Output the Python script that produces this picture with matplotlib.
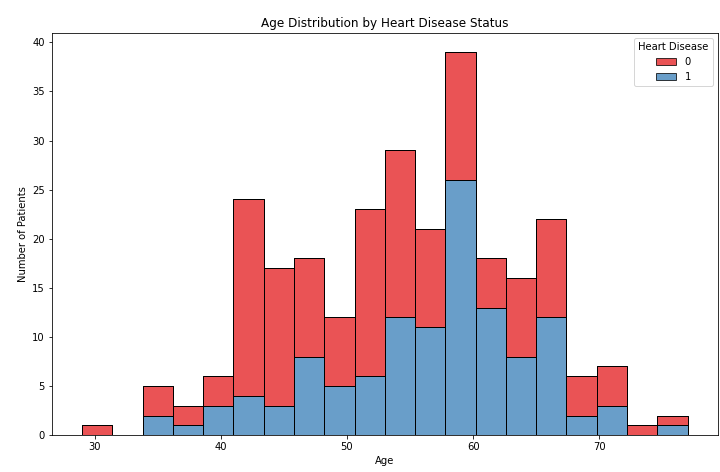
import numpy as np
import matplotlib
matplotlib.use("Agg")
import matplotlib.pyplot as plt
from matplotlib.patches import Patch

# Data (20 bins between age 29 and 77)
age_min, age_max, n_bins = 29, 77, 20
total_counts = [1, 0, 5, 3, 6, 24, 17, 18, 12, 23, 29, 21, 39, 18, 16, 22, 6, 7, 1, 2]
disease_1 = [0, 0, 2, 1, 3, 4, 3, 8, 5, 6, 12, 11, 26, 13, 8, 12, 2, 3, 0, 1]
disease_0 = [t - d for t, d in zip(total_counts, disease_1)]
hue_levels = ["0", "1"]

edges = np.linspace(age_min, age_max, n_bins + 1)
width = edges[1] - edges[0]
left = edges[:-1]

red = "#e41a1c"
blue = "#377eb8"
alpha = 0.75

fig = plt.figure(figsize=(10, 6.556), dpi=72)
ax = fig.add_axes([0.072, 0.078, 0.925, 0.852])

ax.bar(left, disease_1, width=width, align="edge", color=blue, alpha=alpha,
       edgecolor="black", linewidth=1)
ax.bar(left, disease_0, width=width, bottom=disease_1, align="edge", color=red,
       alpha=alpha, edgecolor="black", linewidth=1)
# redraw edges at full opacity
ax.bar(left, disease_1, width=width, align="edge", fill=False, edgecolor="black", linewidth=1)
ax.bar(left, disease_0, width=width, bottom=disease_1, align="edge", fill=False,
       edgecolor="black", linewidth=1)

span = age_max - age_min
ax.set_xlim(age_min - 0.05 * span, age_max + 0.05 * span)
ax.set_ylim(0, max(total_counts) * 1.05)
ax.set_xticks([30, 40, 50, 60, 70])
ax.set_yticks(range(0, 41, 5))

ax.set_title("Age Distribution by Heart Disease Status", fontsize=12)
ax.set_xlabel("Age", fontsize=10)
ax.set_ylabel("Number of Patients", fontsize=10)

handles = [Patch(facecolor=red, alpha=alpha, edgecolor="black", label=hue_levels[0]),
           Patch(facecolor=blue, alpha=alpha, edgecolor="black", label=hue_levels[1])]
ax.legend(handles=handles, title="Heart Disease", loc="upper right")

fig.savefig("out.png", dpi=72)
